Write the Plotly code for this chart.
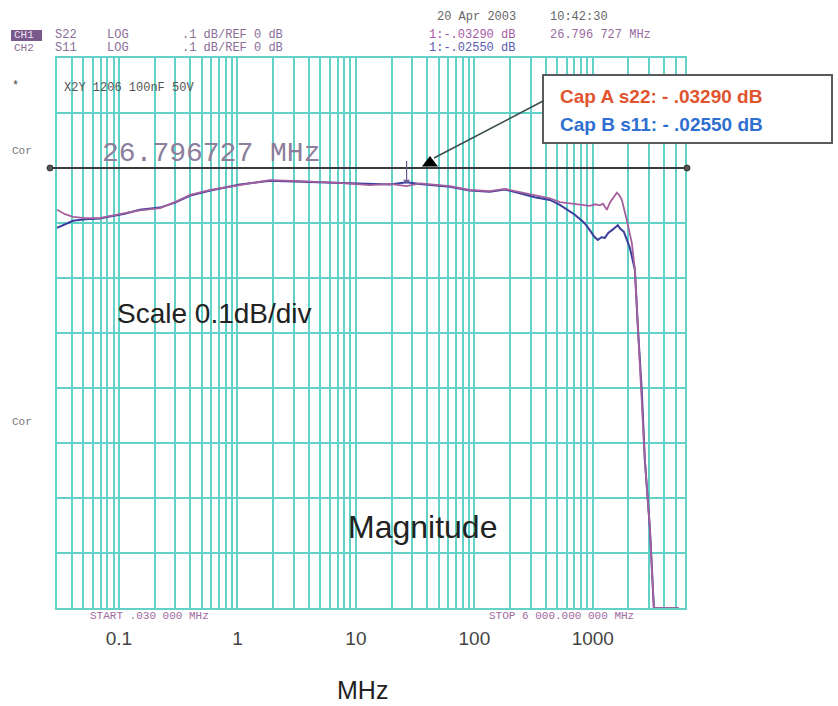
import plotly.graph_objects as go
import math

# ---------------- data ----------------
freq_a = [0.030, 0.035, 0.041, 0.052, 0.069, 0.084, 0.112, 0.150, 0.222, 0.297, 0.40, 0.59,
          1.05, 1.88, 3.37, 7.33, 13.1, 19.4, 26.8, 34.7, 62.2, 91.7, 135, 181, 242, 324,
          434, 527, 705, 778, 944, 1050, 1146, 1220, 1313, 1400, 1449, 1530, 1596, 1680,
          1758, 1937, 2134, 2265, 2400, 2595, 2749, 3027, 3276, 5300]
s22_cap_a = [-0.076, -0.084, -0.089, -0.091, -0.091, -0.087, -0.082, -0.077, -0.073, -0.062,
             -0.049, -0.040, -0.031, -0.022, -0.024, -0.027, -0.031, -0.029, -0.033, -0.028,
             -0.033, -0.040, -0.042, -0.038, -0.044, -0.049, -0.055, -0.062, -0.066, -0.067,
             -0.069, -0.066, -0.068, -0.065, -0.076, -0.062, -0.058, -0.050, -0.045, -0.050,
             -0.058, -0.095, -0.136, -0.185, -0.289, -0.409, -0.531, -0.653, -0.800, -0.800]

freq_b = [0.030, 0.035, 0.041, 0.052, 0.069, 0.084, 0.112, 0.150, 0.222, 0.297, 0.40, 0.59,
          1.05, 1.88, 3.37, 7.33, 13.1, 19.4, 26.8, 34.7, 62.2, 91.7, 135, 181, 242, 324,
          434, 527, 705, 850, 944, 1030, 1102, 1180, 1263, 1350, 1449, 1530, 1626, 1700,
          1829, 2053, 2265, 2400, 2595, 2749, 3027, 3276, 5300]
s11_cap_b = [-0.109, -0.102, -0.096, -0.093, -0.092, -0.088, -0.083, -0.076, -0.072, -0.063,
             -0.050, -0.041, -0.030, -0.023, -0.025, -0.028, -0.030, -0.030, -0.026, -0.029,
             -0.034, -0.041, -0.043, -0.039, -0.046, -0.053, -0.058, -0.067, -0.085, -0.100,
             -0.113, -0.125, -0.131, -0.126, -0.127, -0.118, -0.113, -0.108, -0.104, -0.110,
             -0.116, -0.145, -0.185, -0.289, -0.409, -0.531, -0.653, -0.800, -0.800]

marker_freq = 26.796727
marker_a_db = -0.0329
marker_b_db = -0.0255

tick_vals_decades = [0.1, 1, 10, 100, 1000]
tick_labels = ["0.1", "1", "10", "100", "1000"]
grid_digits = [1, 2, 3, 4, 5, 6, 7, 8, 9]
grid_decades = [0.01, 0.1, 1, 10, 100, 1000]

# ---------------- geometry helpers ----------------
W, H = 838, 706
L, R, T, B = 57, 685, 58, 608
def px(x):
    return (x - L) / (R - L)
def py(y):
    return (B - y) / (B - T)

CYAN = "#62d2c8"

grid_vals = [d * g for g in grid_decades for d in grid_digits if 0.03 <= d * g <= 6000]
grid_text = [tick_labels[tick_vals_decades.index(v)] if v in tick_vals_decades else "" for v in grid_vals]

fig = go.Figure()

fig.add_trace(go.Scatter(x=freq_b, y=s11_cap_b, mode="lines", name="Cap B s11",
                         line=dict(color="#3b3f9c", width=2)))
fig.add_trace(go.Scatter(x=freq_a, y=s22_cap_a, mode="lines", name="Cap A s22",
                         line=dict(color="#a4609e", width=1.8)))
# marker triangle on the reference line
fig.add_trace(go.Scatter(x=[42.2], y=[0.009], mode="markers",
                         marker=dict(symbol="triangle-up", color="black", size=14),
                         hoverinfo="skip"))

fig.update_layout(
    width=W, height=H, autosize=False,
    margin=dict(l=L, r=W - R, t=T, b=H - B),
    plot_bgcolor="white", paper_bgcolor="white",
    showlegend=False,
    font=dict(family="Liberation Sans, Arial", color="#333"),
)
fig.update_xaxes(type="log", range=[math.log10(0.03), math.log10(6000)],
                 tickvals=grid_vals, ticktext=grid_text, ticks="",
                 showgrid=True, gridcolor=CYAN, gridwidth=1.5,
                 showline=True, linecolor=CYAN, linewidth=2, mirror=True,
                 zeroline=False, ticklabelstandoff=12,
                 tickfont=dict(family="Liberation Sans, Arial", size=19, color="#444"))
fig.update_yaxes(range=[-0.8, 0.2], tick0=0, dtick=0.1, showticklabels=False, ticks="",
                 showgrid=True, gridcolor=CYAN, gridwidth=2,
                 showline=True, linecolor=CYAN, linewidth=2, mirror=True, zeroline=False)

shapes = []
# white boxes behind text labels
shapes.append(dict(type="rect", xref="paper", yref="paper", x0=px(93), x1=px(340), y0=py(340), y1=py(287),
                   fillcolor="white", line=dict(width=0), layer="between"))
shapes.append(dict(type="rect", xref="paper", yref="paper", x0=px(322), x1=px(530), y0=py(553), y1=py(498),
                   fillcolor="white", line=dict(width=0), layer="between"))
# reference line
shapes.append(dict(type="line", xref="paper", yref="y", x0=px(50), x1=px(687), y0=0, y1=0,
                   line=dict(color="#3a3a3a", width=2), layer="above"))
for xe in (px(50), px(687)):
    shapes.append(dict(type="circle", xref="paper", yref="y", xsizemode="pixel", ysizemode="pixel",
                       xanchor=xe, yanchor=0, x0=-3, x1=3, y0=-3, y1=3,
                       fillcolor="#555", line=dict(color="#333", width=1), layer="above"))
# legend box
shapes.append(dict(type="rect", xref="paper", yref="paper", x0=px(543), x1=px(832), y0=py(143), y1=py(75),
                   fillcolor="white", line=dict(color="#5a5a5a", width=2), layer="above"))
# CH1 highlight box
shapes.append(dict(type="rect", xref="paper", yref="paper", x0=px(11), x1=px(42), y0=py(41), y1=py(30),
                   fillcolor="#7a5a8c", line=dict(width=0), layer="above"))
fig.update_layout(shapes=shapes)

ann = []
def txt(x, y, text, size, color, family="Liberation Mono, monospace", xanchor="left", bold=False):
    if bold:
        text = "<b>" + text + "</b>"
    ann.append(dict(xref="paper", yref="paper", x=px(x), y=py(y), text=text, showarrow=False,
                    xanchor=xanchor, yanchor="middle", font=dict(family=family, size=size, color=color)))

mono_c = "#8a6d98"
txt(435, 17, "20 Apr 2003", 12, "#666")
txt(548, 17, "10:42:30", 12, "#666")
txt(12, 35.5, "CH1", 11, "#eee0f4")
txt(53, 35, "S22", 12, mono_c)
txt(105, 35, "LOG", 12, mono_c)
txt(180, 35, ".1 dB/REF 0 dB", 12, mono_c)
txt(12, 48, "CH2", 11, mono_c)
txt(53, 48, "S11", 12, mono_c)
txt(105, 48, "LOG", 12, mono_c)
txt(180, 48, ".1 dB/REF 0 dB", 12, mono_c)
txt(427, 35, "1:-.03290 dB", 12, "#a45aa6")
txt(548, 35, "26.796 727 MHz", 12, "#9a6aa0")
txt(427, 48, "1:-.02550 dB", 12, "#5a5aae")
txt(10, 86, "*", 12, "#444")
txt(62, 88, "X2Y 1206 100nF 50V", 12, "#555")
txt(10, 151, "Cor", 11, "#777")
txt(10, 422, "Cor", 11, "#777")
txt(100, 153, "26.796727 MHz", 28, "#8c7e9c")
txt(88, 616, "START .030 000 MHz", 11, "#a06aa0")
txt(487, 616, "STOP 6 000.000 000 MHz", 11, "#a06aa0")

sans = "Liberation Sans, Arial, sans-serif"
txt(214, 313, "Scale 0.1dB/div", 28, "#222", family=sans, xanchor="center")
txt(422, 527, "Magnitude", 32, "#222", family=sans, xanchor="center")
txt(362, 690, "MHz", 25, "#222", family=sans, xanchor="center")
txt(558, 96, f"Cap A s22: - {abs(marker_a_db):.5f}".replace("0.", ".") + " dB", 19, "#e0542e", family=sans, bold=True)
txt(558, 124, f"Cap B s11: - {abs(marker_b_db):.5f}".replace("0.", ".") + " dB", 19, "#2f6fd0", family=sans, bold=True)

# arrow from legend box to triangle marker
ann.append(dict(xref="paper", yref="paper", x=px(434), y=py(158), ax=111, ay=-58, text="",
                showarrow=True, arrowhead=0, arrowwidth=1.6, arrowcolor="#3d4d4d"))
# marker "1" arrow on the traces
ann.append(dict(xref="x", yref="y", x=math.log10(marker_freq), y=-0.028, ax=0, ay=-24, text="",
                showarrow=True, arrowhead=1, arrowsize=1, arrowwidth=1.2, arrowcolor="#6a5a9a"))
fig.update_layout(annotations=ann)

fig.write_html("out.html", config={"displayModeBar": False},
               post_script="document.body.style.margin='0';document.body.style.padding='0';")
